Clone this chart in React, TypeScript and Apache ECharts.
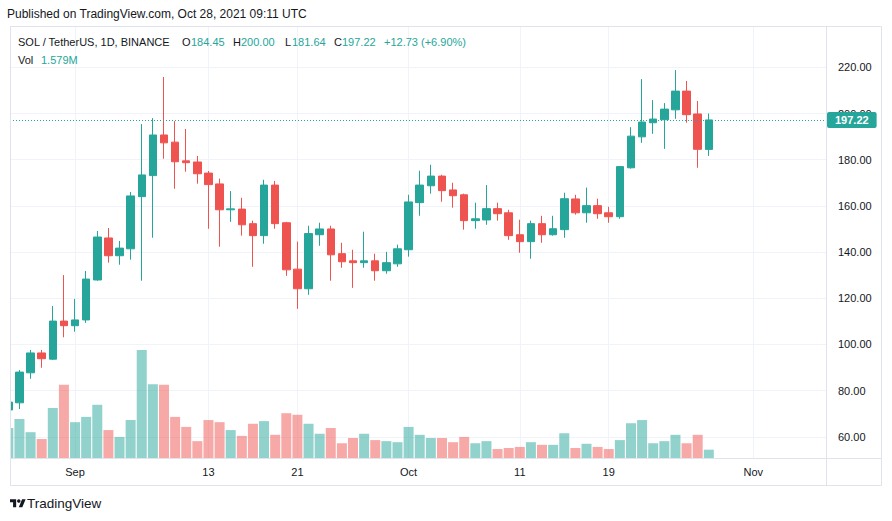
import React, { useEffect, useRef } from 'react';
import * as echarts from 'echarts';

// ---------- data ----------
const dates = [
  '2021-08-26', '2021-08-27', '2021-08-28', '2021-08-29', '2021-08-30', '2021-08-31',
  '2021-09-01', '2021-09-02', '2021-09-03', '2021-09-04', '2021-09-05', '2021-09-06', '2021-09-07', '2021-09-08', '2021-09-09', '2021-09-10',
  '2021-09-11', '2021-09-12', '2021-09-13', '2021-09-14', '2021-09-15', '2021-09-16', '2021-09-17', '2021-09-18', '2021-09-19', '2021-09-20',
  '2021-09-21', '2021-09-22', '2021-09-23', '2021-09-24', '2021-09-25', '2021-09-26', '2021-09-27', '2021-09-28', '2021-09-29', '2021-09-30',
  '2021-10-01', '2021-10-02', '2021-10-03', '2021-10-04', '2021-10-05', '2021-10-06', '2021-10-07', '2021-10-08', '2021-10-09', '2021-10-10',
  '2021-10-11', '2021-10-12', '2021-10-13', '2021-10-14', '2021-10-15', '2021-10-16', '2021-10-17', '2021-10-18', '2021-10-19', '2021-10-20',
  '2021-10-21', '2021-10-22', '2021-10-23', '2021-10-24', '2021-10-25', '2021-10-26', '2021-10-27', '2021-10-28',
];
const opens = [
  71.6, 74.7, 87.7, 96.3, 93.6, 110.1,
  108.1, 110.6, 127.9, 146.1, 138.4, 141.4, 164.0, 173.1, 190.7, 187.6,
  179.5, 179.0, 174.2, 169.5, 158.3, 158.6, 152.3, 147.1, 169.0, 152.7,
  132.6, 124.1, 147.5, 150.0, 139.3, 136.2, 135.4, 136.2, 131.9, 134.9,
  141.0, 161.4, 168.7, 172.9, 166.9, 164.8, 153.6, 153.9, 158.8, 157.0,
  147.5, 144.5, 152.3, 147.5, 149.7, 163.0, 157.0, 160.1, 157.0, 155.3,
  176.5, 189.9, 196.0, 197.3, 201.6, 209.7, 199.8, 184.45,
];
const closes = [
  75.0, 88.0, 96.3, 93.8, 110.1, 108.1,
  110.6, 128.3, 146.5, 138.4, 141.7, 164.3, 173.4, 190.7, 187.3, 179.1,
  178.7, 173.9, 169.2, 158.3, 158.7, 151.8, 147.1, 169.0, 152.3, 132.3,
  124.1, 148.0, 150.0, 138.8, 135.8, 135.4, 136.2, 131.9, 135.4, 141.4,
  161.7, 169.0, 172.9, 166.6, 164.4, 153.6, 154.4, 158.8, 156.6, 147.1,
  144.5, 152.3, 147.5, 150.1, 163.1, 157.0, 160.1, 156.6, 155.3, 177.0,
  190.2, 196.3, 197.6, 201.9, 209.7, 199.5, 184.49, 197.22,
];
const lows = [
  70.5, 72.0, 85.1, 89.9, 93.2, 103.1,
  105.5, 109.3, 127.6, 135.4, 134.5, 136.7, 127.6, 146.2, 180.4, 167.4,
  174.8, 169.6, 150.1, 142.3, 153.1, 147.1, 133.6, 143.6, 150.1, 129.7,
  115.4, 121.5, 142.7, 127.6, 133.2, 124.5, 133.2, 127.6, 130.6, 133.6,
  138.0, 155.7, 165.3, 161.8, 159.2, 149.7, 150.1, 151.8, 153.6, 145.3,
  139.7, 137.1, 144.0, 147.1, 146.2, 156.2, 152.7, 154.4, 152.7, 154.4,
  176.1, 187.3, 191.2, 184.7, 197.7, 196.0, 176.5, 181.64,
];
const highs = [
  76.5, 88.9, 97.6, 97.6, 116.6, 130.0,
  119.7, 131.8, 149.1, 150.4, 144.8, 166.0, 195.4, 198.0, 215.8, 196.7,
  193.3, 181.6, 175.1, 171.8, 166.4, 163.5, 153.6, 171.3, 170.8, 153.1,
  144.5, 151.4, 152.7, 151.4, 144.0, 141.0, 148.8, 139.3, 140.1, 143.2,
  164.8, 175.2, 177.8, 173.5, 170.0, 165.3, 161.4, 169.0, 161.4, 158.3,
  154.0, 153.6, 155.7, 155.7, 165.7, 164.8, 167.9, 163.1, 159.6, 177.3,
  194.1, 214.9, 205.8, 204.5, 218.8, 214.1, 205.4, 200.0,
];
// volume in millions
const volumes = [
  5.7, 7.4, 4.9, 3.6, 9.5, 13.9,
  6.8, 7.8, 10.1, 5.3, 4.0, 7.2, 20.5, 14.0, 13.9, 7.8,
  5.9, 3.2, 7.2, 6.8, 5.3, 4.2, 6.5, 7.0, 4.4, 8.5,
  8.2, 6.5, 4.6, 5.7, 2.8, 3.8, 4.6, 3.4, 3.2, 3.0,
  5.9, 4.4, 3.8, 3.8, 3.0, 4.0, 2.8, 3.2, 1.7, 1.9,
  2.1, 3.0, 2.5, 2.5, 4.7, 1.9, 2.7, 2.1, 1.7, 3.4,
  6.6, 7.2, 2.8, 3.2, 4.4, 2.8, 4.4, 1.579,
];
const tickDates = ['2021-09-01', '2021-09-13', '2021-09-21', '2021-10-01', '2021-10-11', '2021-10-19', '2021-11-01'];
const tickLabels = ['Sep', '13', '21', 'Oct', '11', '19', 'Nov'];
const priceTicks = [60, 80, 100, 120, 140, 160, 180, 200, 220];

const UP = '#26a69a';
const DOWN = '#ef5350';
const UP_VOL = 'rgba(38,166,154,0.5)';
const DOWN_VOL = 'rgba(239,83,80,0.5)';
const TEXT = '#131722';

const DAY = 86400000;
const ORIGIN = Date.parse('2021-09-01T00:00:00Z');
const dayIdx = (iso: string) => Math.round((Date.parse(iso + 'T00:00:00Z') - ORIGIN) / DAY);

echarts.graphic.registerShape(
  'tvlogo',
  echarts.graphic.extendPath('M14 22H7V11H0V4h14v18zM28 22h-8l7.5-18h8L28 22z', {})
);

export default function App() {
  const ref = useRef<HTMLDivElement>(null);
  useEffect(() => {
    document.body.style.margin = '0';
    if (!ref.current) return;
    const chart = echarts.init(ref.current, undefined, { renderer: 'svg' });
    const n = dates.length;
    const last = n - 1;
    const candleData = dates.map((d, i) => [dayIdx(d), opens[i], closes[i], lows[i], highs[i]]);
    const volData = dates.map((d, i) => ({
      value: [dayIdx(d), volumes[i]],
      itemStyle: { color: closes[i] >= opens[i] ? UP_VOL : DOWN_VOL },
    }));
    const tickDays = tickDates.map(dayIdx);
    const chg = closes[last] - closes[last - 1];
    const pct = (chg / closes[last - 1]) * 100;
    const font = 'Liberation Sans, Arial, sans-serif';
    const f11 = `11px ${font}`;

    const legendParts: { text: string; x: number; color: string }[] = [
      { text: 'SOL / TetherUS, 1D, BINANCE', x: 18, color: TEXT },
      { text: 'O', x: 182, color: TEXT },
      { text: opens[last].toFixed(2), x: 191, color: UP },
      { text: 'H', x: 233, color: TEXT },
      { text: highs[last].toFixed(2), x: 241, color: UP },
      { text: 'L', x: 285, color: TEXT },
      { text: lows[last].toFixed(2), x: 292, color: UP },
      { text: 'C', x: 334, color: TEXT },
      { text: closes[last].toFixed(2), x: 342, color: UP },
      { text: (chg >= 0 ? '+' : '') + chg.toFixed(2) + ' (' + (pct >= 0 ? '+' : '') + pct.toFixed(2) + '%)', x: 384, color: UP },
      { text: 'Vol', x: 18, color: TEXT },
      { text: volumes[last].toFixed(3) + 'M', x: 41, color: UP },
    ];

    chart.setOption({
      animation: false,
      backgroundColor: '#ffffff',
      grid: { left: 10, right: 66, top: 26, bottom: 63, containLabel: false },
      xAxis: {
        type: 'value',
        min: -5.85,
        max: 67.54,
        axisLine: { show: false },
        axisTick: { show: false, customValues: tickDays },
        axisLabel: {
          customValues: tickDays,
          color: TEXT,
          fontSize: 11,
          fontFamily: font,
          margin: 8,
          formatter: (v: number) => {
            const k = tickDays.findIndex((t) => Math.abs(t - v) < 0.01);
            return k >= 0 ? tickLabels[k] : '';
          },
        },
        splitLine: { show: true, lineStyle: { color: '#f0f3fa', width: 1 } },
      },
      yAxis: [
        {
          type: 'value',
          position: 'right',
          min: 50.8,
          max: 237.9,
          minInterval: 20,
          maxInterval: 20,
          axisLine: { show: false },
          axisTick: { show: false },
          axisLabel: {
            color: TEXT,
            fontSize: 11,
            fontFamily: font,
            margin: 12,
            showMinLabel: false,
            showMaxLabel: false,
            formatter: (v: number) => (priceTicks.includes(Math.round(v * 100) / 100) ? v.toFixed(2) : ''),
          },
          splitLine: { show: true, lineStyle: { color: '#f0f3fa', width: 1 } },
        },
        {
          type: 'value',
          min: 0,
          max: 82,
          show: false,
          splitLine: { show: false },
        },
      ],
      series: [
        {
          type: 'bar',
          xAxisIndex: 0,
          yAxisIndex: 1,
          barWidth: 10,
          clip: true,
          data: volData,
          silent: true,
        },
        {
          type: 'candlestick',
          xAxisIndex: 0,
          yAxisIndex: 0,
          barWidth: 8,
          clip: true,
          data: candleData,
          itemStyle: { color: UP, color0: DOWN, borderColor: UP, borderColor0: DOWN, borderWidth: 1 },
          markLine: {
            symbol: ['none', 'none'],
            silent: true,
            animation: false,
            data: [{ yAxis: closes[last] }],
            lineStyle: { color: UP, type: [1, 2], width: 1 },
            label: {
              position: 'end',
              distance: 1,
              formatter: closes[last].toFixed(2),
              backgroundColor: UP,
              color: '#ffffff',
              fontSize: 11,
              fontWeight: 'bold',
              fontFamily: font,
              padding: [3, 8, 2, 8],
              borderRadius: 2,
            },
            emphasis: { disabled: true },
          },
        },
      ],
      graphic: [
        // white masks outside the plot on the left (keeps clipped candle edge clean)
        { type: 'rect', silent: true, shape: { x: 0, y: 26, width: 10, height: 460 }, style: { fill: '#ffffff' }, z: 9 },
        { type: 'rect', silent: true, shape: { x: 10.5, y: 26.5, width: 871, height: 459 }, style: { fill: 'none', stroke: '#e0e3eb', lineWidth: 1 }, z: 10 },
        { type: 'line', silent: true, shape: { x1: 826.5, y1: 26, x2: 826.5, y2: 486 }, style: { stroke: '#e0e3eb', lineWidth: 1 }, z: 10 },
        { type: 'line', silent: true, shape: { x1: 10, y1: 458.5, x2: 882, y2: 458.5 }, style: { stroke: '#e0e3eb', lineWidth: 1 }, z: 10 },
        {
          type: 'text', silent: true, x: 7, y: 14, z: 10,
          style: { text: 'Published on TradingView.com, Oct 28, 2021 09:11 UTC', fill: TEXT, font: `12px ${font}`, verticalAlign: 'middle' },
        },
        ...legendParts.map((p, i) => ({
          type: 'text', silent: true, x: p.x, y: i < 10 ? 42 : 60, z: 10,
          style: { text: p.text, fill: p.color, font: f11, verticalAlign: 'middle' },
        })),
        {
          type: 'tvlogo', silent: true, x: 10, y: 497.5, scaleX: 0.44, scaleY: 0.44, z: 10,
          style: { fill: TEXT },
        },
        { type: 'circle', silent: true, shape: { cx: 10 + 20 * 0.44, cy: 497.5 + 8 * 0.44, r: 4 * 0.44 }, style: { fill: TEXT }, z: 10 },
        {
          type: 'text', silent: true, x: 27, y: 503, z: 10,
          style: { text: 'TradingView', fill: TEXT, font: `13.5px ${font}`, verticalAlign: 'middle' },
        },
      ],
    });
    return () => chart.dispose();
  }, []);
  return <div ref={ref} style={{ width: 892, height: 521, background: '#fff' }} />;
}
